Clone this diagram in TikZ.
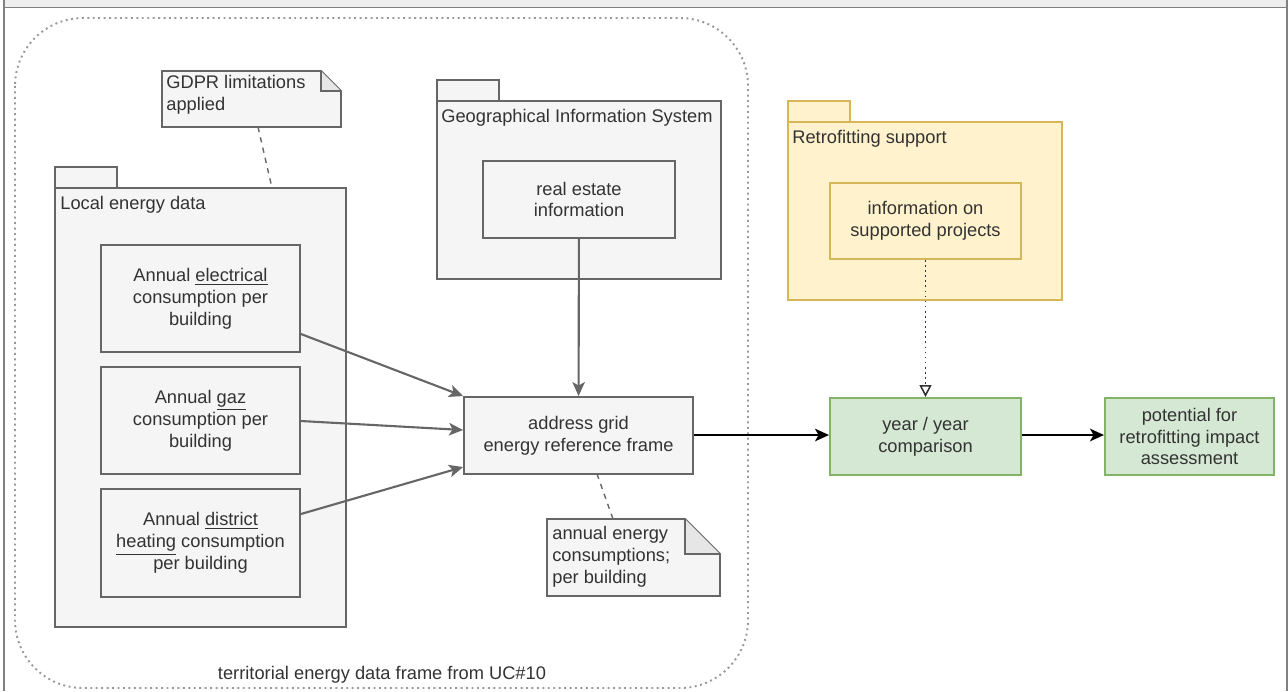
\documentclass[tikz,border=0pt]{standalone}
\usepackage{fontspec}
\setmainfont{Liberation Sans}
\usepackage{tikz}
\usetikzlibrary{arrows.meta, calc, positioning}
\definecolor{ink}{HTML}{333333}
\definecolor{edge}{HTML}{666666}
\definecolor{panel}{HTML}{F5F5F5}
\definecolor{fold}{HTML}{E6E6E6}
\definecolor{framec}{HTML}{808080}
\definecolor{band}{HTML}{EEEEEE}
\definecolor{dotc}{HTML}{999999}
\definecolor{ylw}{HTML}{FFF2CC}
\definecolor{ylwd}{HTML}{D6B656}
\definecolor{grn}{HTML}{D5E8D4}
\definecolor{grnd}{HTML}{82B366}
\tikzset{
  txt/.style   ={text=ink, font=\fontsize{10.4}{12.4}\selectfont},
  box/.style   ={txt, draw=edge, line width=1.1pt, fill=panel, align=center, inner sep=0pt},
  pkg/.style   ={box},
  boxy/.style  ={box, fill=ylw, draw=ylwd},
  boxg/.style  ={box, fill=grn, draw=grnd},
  ttl/.style   ={txt, anchor=north west, inner sep=0pt},
  notetxt/.style={txt, anchor=north west, align=left, inner sep=0pt},
  flow/.style  ={-{Stealth[length=2.8mm,width=2.5mm,inset=0.7mm]}, line width=1.2pt, draw=edge},
  flowk/.style ={-{Stealth[length=2.8mm,width=2.5mm,inset=0.7mm]}, line width=1.2pt, draw=black},
  flowd/.style ={-{Triangle[open,length=2.4mm,width=2.4mm]}, line width=0.9pt, draw=ink, dotted},
  link/.style  ={dashed, line width=0.8pt, draw=edge},
  note/.style  ={draw=edge, line width=1.1pt, fill=panel}
}

\begin{document}
\begin{tikzpicture}[x=0.02cm, y=-0.02cm]
  \useasboundingbox (0,0) rectangle (1288,691);

  \fill[band] (4,0) rectangle (1287,7.5);
  \draw[framec, line width=1.1pt] (4,691) -- (4,7.5) -- (1287,7.5) -- (1287,691);
  \draw[framec, line width=1.1pt] (4,0) -- (4,7.5) (1287,0) -- (1287,7.5);

  \draw[dotc, dotted, line width=1.1pt, rounded corners=1.36cm] (15,18) rectangle (748,688);
  \node[txt] (frame) at (382,675) {territorial energy data frame from UC\#10};

  \draw[note] (162,71) -- (321,71) -- (341,91) -- (341,127) -- (162,127) -- cycle;
  \draw[note, fill=fold] (321,71) -- (321,91) -- (341,91);
  \node[notetxt] (gdpr) at (166,75) {GDPR limitations\\applied};

  \draw[pkg] (55,167) rectangle (117,188);
  \node[pkg, minimum width=5.82cm, minimum height=8.78cm] (local) at (200.5,407.5) {};
  \node[ttl] (localttl) at (60,196) {Local energy data};
  \node[box, minimum width=3.98cm, minimum height=2.14cm] (elec) at (200.5,298.5) {Annual \underline{electrical}\\consumption per\\building};
  \node[box, minimum width=3.98cm, minimum height=2.14cm] (gaz) at (200.5,420.5) {Annual \underline{gaz}\\consumption per\\building};
  \node[box, minimum width=3.98cm, minimum height=2.16cm] (dist) at (200.5,543) {Annual \underline{district}\\\underline{heating} consumption\\per building};

  \draw[pkg] (437,80) rectangle (499,101);
  \node[pkg, minimum width=5.68cm, minimum height=3.56cm] (gis) at (579,190) {};
  \node[ttl] (gisttl) at (441,109) {Geographical Information System};
  \node[box, minimum width=3.84cm, minimum height=1.54cm] (estate) at (579,199.5) {real estate\\information};

  \node[box, minimum width=4.58cm, minimum height=1.54cm] (addr) at (578.5,435.5) {address grid\\energy reference frame};

  \draw[note] (547,519) -- (685,519) -- (720,554) -- (720,596) -- (547,596) -- cycle;
  \draw[note, fill=fold] (685,519) -- (685,554) -- (720,554);
  \node[notetxt] (annual) at (552,526) {annual energy\\consumptions;\\per building};

  \draw[boxy] (788,101) rectangle (850,122);
  \node[boxy, minimum width=5.48cm, minimum height=3.56cm] (retro) at (925,211) {};
  \node[ttl] (retrottl) at (792,130) {Retrofitting support};
  \node[boxy, minimum width=3.82cm, minimum height=1.52cm] (info) at (925.5,221) {information on\\supported projects};

  \node[boxg, minimum width=3.82cm, minimum height=1.54cm] (year) at (925.5,436.5) {year / year\\comparison};
  \node[boxg, minimum width=3.38cm, minimum height=1.54cm] (pot) at (1189.5,436.5) {potential for\\retrofitting impact\\assessment};

  \draw[link] (258,127) -- (272,188);
  \draw[link] (597,474) -- (613,519);
  \draw[flow] (estate) -- (addr);
  \draw[flow] (elec.east |- 0,334) -- (addr.north west);
  \draw[flow] (gaz.east |- 0,421) -- (addr.west |- 0,430);
  \draw[flow] (dist.east |- 0,514) -- (addr.west |- 0,467);
  \draw[flowk] (addr.east |- 0,435) -- (year.west |- 0,435);
  \draw[flowk] (year.east |- 0,435) -- (pot.west |- 0,435);
  \draw[flowd] (info) -- (year);
\end{tikzpicture}
\end{document}
